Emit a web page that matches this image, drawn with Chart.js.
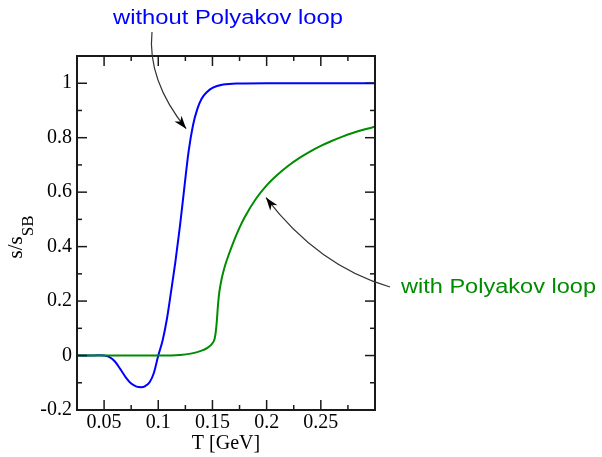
<!DOCTYPE html>
<html>
<head>
<meta charset="utf-8">
<script src="https://cdn.jsdelivr.net/npm/chart.js@4.4.1/dist/chart.umd.min.js"></script>
<style>
  html, body { margin:0; padding:0; background:#fff; }
  canvas { display:block; }
</style>
</head>
<body>
<canvas id="entropyChart" width="602" height="457"></canvas>
<script>
// s/s_SB vs T, with and without Polyakov loop

const tBlue = [0.025, 0.035, 0.045, 0.05, 0.055, 0.06, 0.065, 0.07, 0.075, 0.08, 0.084, 0.088, 0.092, 0.096, 0.1,
  0.104, 0.108, 0.112, 0.116, 0.12, 0.124, 0.128, 0.132, 0.136, 0.14, 0.145, 0.15, 0.16, 0.175, 0.2, 0.3];
const sBlue = [0, 0, 0.001, 0, -0.006, -0.022, -0.05, -0.08, -0.103, -0.114, -0.116, -0.112, -0.098, -0.063, 0,
  0.055, 0.135, 0.24, 0.35, 0.475, 0.615, 0.75, 0.845, 0.905, 0.943, 0.968, 0.983, 0.995, 0.999, 1, 1];

const tGreen = [0.025, 0.1, 0.12, 0.13, 0.14, 0.145, 0.15, 0.152, 0.153, 0.154, 0.155, 0.156, 0.157, 0.158, 0.159,
  0.16, 0.162, 0.165, 0.17, 0.175, 0.18, 0.19, 0.2, 0.21, 0.22, 0.23, 0.24, 0.25, 0.26, 0.27, 0.28, 0.29, 0.3];
const sGreen = [0, 0, 0.002, 0.007, 0.018, 0.027, 0.045, 0.062, 0.085, 0.125, 0.18, 0.222, 0.25, 0.272, 0.291,
  0.307, 0.335, 0.37, 0.423, 0.47, 0.51, 0.575, 0.625, 0.664, 0.697, 0.725, 0.749, 0.77, 0.788, 0.804, 0.818, 0.83, 0.84];

const xTicks = [0.05, 0.1, 0.15, 0.2, 0.25];
const xTickLabels = ['0.05', '0.1', '0.15', '0.2', '0.25'];
const xMinor = [0.075, 0.125, 0.175, 0.225, 0.275];
const yTicks = [-0.2, 0, 0.2, 0.4, 0.6, 0.8, 1];
const yTickLabels = ['-0.2', '0', '0.2', '0.4', '0.6', '0.8', '1'];
const yMinor = [-0.1, 0.1, 0.3, 0.5, 0.7, 0.9];

const BLUE = '#0000ff', GREEN = '#008c00', INK = '#1a1a1a';
const SERIF = '"Liberation Serif", "Times New Roman", serif';
const SANS = '"Liberation Sans", Arial, sans-serif';

const pts = (xs, ys) => xs.map((x, i) => ({ x, y: ys[i] }));

function arrowHead(ctx, tip, from){
  const a = Math.atan2(tip.y - from.y, tip.x - from.x), L = 13, W = 4.5;
  ctx.save();
  ctx.translate(tip.x, tip.y); ctx.rotate(a);
  ctx.beginPath();
  ctx.moveTo(0, 0); ctx.lineTo(-L, -W); ctx.lineTo(-L * 0.7, 0); ctx.lineTo(-L, W);
  ctx.closePath(); ctx.fill();
  ctx.restore();
}

function curvedArrow(ctx, p0, c, p1){
  ctx.beginPath();
  ctx.moveTo(p0.x, p0.y);
  ctx.quadraticCurveTo(c.x, c.y, p1.x, p1.y);
  ctx.stroke();
  arrowHead(ctx, p1, c);
}

function stretchedText(ctx, text, x, y, width){
  const w = ctx.measureText(text).width;
  ctx.save();
  ctx.translate(x, y); ctx.scale(width / w, 1);
  ctx.fillText(text, 0, 0);
  ctx.restore();
}

const decorations = {
  id: 'decorations',
  afterDraw(chart){
    const { ctx, chartArea: a, scales: { x, y } } = chart;
    ctx.save();
    ctx.strokeStyle = INK; ctx.lineWidth = 1.5;
    const line = (x0, y0, x1, y1) => { ctx.beginPath(); ctx.moveTo(x0, y0); ctx.lineTo(x1, y1); ctx.stroke(); };
    // inward ticks on all four sides
    const xt = (v, len) => { const p = x.getPixelForValue(v); line(p, a.bottom, p, a.bottom - len); line(p, a.top, p, a.top + len); };
    const yt = (v, len) => { const p = y.getPixelForValue(v); line(a.left, p, a.left + len, p); line(a.right, p, a.right - len, p); };
    xTicks.forEach(v => xt(v, 10)); xMinor.forEach(v => xt(v, 5));
    yTicks.forEach(v => yt(v, 10)); yMinor.forEach(v => yt(v, 5));
    ctx.lineWidth = 2;
    ctx.strokeRect(a.left, a.top, a.right - a.left, a.bottom - a.top);

    // y axis title s/s_SB
    ctx.fillStyle = '#000';
    ctx.font = '21px ' + SERIF;
    const w1 = ctx.measureText('s/s').width;
    ctx.font = '17px ' + SERIF;
    const w2 = ctx.measureText('SB').width;
    const cy = (a.top + a.bottom) / 2 + 4;
    ctx.save();
    ctx.translate(22, cy + (w1 + w2) / 2);
    ctx.rotate(-Math.PI / 2);
    ctx.font = '21px ' + SERIF; ctx.textBaseline = 'alphabetic'; ctx.textAlign = 'left';
    ctx.fillText('s/s', 0, 0);
    ctx.font = '17px ' + SERIF;
    ctx.fillText('SB', w1, 11);
    ctx.restore();

    // annotations
    ctx.font = '20px ' + SANS; ctx.textAlign = 'left'; ctx.textBaseline = 'alphabetic';
    ctx.fillStyle = BLUE;
    stretchedText(ctx, 'without Polyakov loop', 113, 24, 230);
    ctx.fillStyle = GREEN;
    stretchedText(ctx, 'with Polyakov loop', 401, 293, 195);

    ctx.strokeStyle = '#333'; ctx.fillStyle = '#000'; ctx.lineWidth = 1.2;
    curvedArrow(ctx, { x: 152, y: 32 }, { x: 147, y: 80 }, { x: x.getPixelForValue(0.1257), y: y.getPixelForValue(0.833) });
    curvedArrow(ctx, { x: 390, y: 287 }, { x: 318, y: 266 }, { x: x.getPixelForValue(0.1994), y: y.getPixelForValue(0.58) });
    ctx.restore();
  }
};

new Chart(document.getElementById('entropyChart').getContext('2d'), {
  type: 'line',
  data: {
    datasets: [
      { label: 'with Polyakov loop', data: pts(tGreen, sGreen), borderColor: GREEN, borderWidth: 2, order: 1 },
      { label: 'without Polyakov loop', data: pts(tBlue, sBlue), borderColor: BLUE, borderWidth: 2, order: 2 }
    ]
  },
  options: {
    responsive: false,
    animation: false,
    events: [],
    layout: { padding: { left: 0, right: 227, top: 56, bottom: 0 } },
    elements: { point: { radius: 0 }, line: { cubicInterpolationMode: 'monotone', fill: false } },
    plugins: { legend: { display: false }, tooltip: { enabled: false } },
    scales: {
      x: {
        type: 'linear', min: 0.025, max: 0.3,
        grid: { display: false, drawTicks: false }, border: { display: false },
        afterBuildTicks: s => { s.ticks = xTicks.map(v => ({ value: v })); },
        afterFit: s => { s.height = 47; },
        ticks: { autoSkip: false, maxRotation: 0, padding: 1, color: '#000', font: { family: SERIF, size: 20 },
          callback: v => xTickLabels[xTicks.indexOf(v)] },
        title: { display: true, text: 'T [GeV]', color: '#000', font: { family: SERIF, size: 20 }, padding: { top: 0, bottom: 1 } }
      },
      y: {
        min: -0.2, max: 1.1,
        grid: { display: false, drawTicks: false }, border: { display: false },
        afterBuildTicks: s => { s.ticks = yTicks.map(v => ({ value: v })); },
        afterFit: s => { s.width = 77; },
        ticks: { autoSkip: false, padding: 5, color: '#000', font: { family: SERIF, size: 20 },
          callback: v => yTickLabels[yTicks.indexOf(v)] }
      }
    }
  },
  plugins: [decorations]
});
</script>
</body>
</html>
